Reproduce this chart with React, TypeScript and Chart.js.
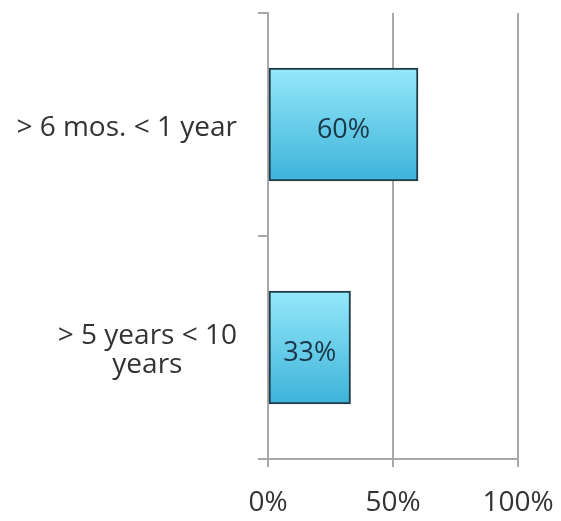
import React, { useEffect, useRef } from "react";
import { Chart, registerables } from "chart.js";

Chart.register(...registerables);

const categories: string[][] = [["> 6 mos. < 1 year"], ["> 5 years < 10", "years"]];
const values: number[] = [60, 33];
const xTicks: number[] = [0, 50, 100];

const FONT = "'Open Sans', Lato, sans-serif";
const TEXT = "#333333";
const GRID = "#a8a8a8";
const BAR_THICK = 113;

const yLabelPlugin = {
  id: "yLabels",
  afterDraw(chart: any) {
    const ctx = chart.ctx;
    const y = chart.scales.y;
    ctx.save();
    ctx.font = `28px ${FONT}`;
    ctx.fillStyle = TEXT;
    ctx.textBaseline = "alphabetic";
    ctx.textAlign = "center";
    const lh = 29;
    categories.forEach((lines, i) => {
      const cy = y.getPixelForValue(i);
      const w = Math.max(...lines.map((l) => ctx.measureText(l).width));
      const right = chart.chartArea.left - 31;
      const cx = right - w / 2;
      lines.forEach((l, k) => ctx.fillText(l, cx, cy + 11 + (k - (lines.length - 1) / 2) * lh));
    });
    ctx.restore();
  },
};

const barLabelPlugin = {
  id: "barLabels",
  afterDatasetsDraw(chart: any) {
    const ctx = chart.ctx;
    const meta = chart.getDatasetMeta(0);
    ctx.save();
    ctx.font = `27px ${FONT}`;
    ctx.fillStyle = "#1b3646";
    ctx.textAlign = "center";
    ctx.textBaseline = "alphabetic";
    meta.data.forEach((el: any, i: number) => {
      ctx.fillText(`${values[i]}%`, (el.x + el.base) / 2, el.y + 13);
    });
    ctx.restore();
  },
};

export default function App() {
  const ref = useRef<HTMLCanvasElement>(null);
  useEffect(() => {
    if (!ref.current) return;
    const chart = new Chart(ref.current, {
      type: "bar",
      data: {
        labels: categories.map((c) => c.join(" ")),
        datasets: [
          {
            data: values,
            barThickness: BAR_THICK,
            borderColor: "#1f3b48",
            borderWidth: 2,
            borderSkipped: false,
            backgroundColor: (c: any) => {
              const ch = c.chart;
              const ys = ch.scales?.y;
              if (!ys || c.dataIndex === undefined) return "#6cd2ef";
              const cy = ys.getPixelForValue(c.dataIndex);
              if (!isFinite(cy)) return "#6cd2ef";
              const g = ch.ctx.createLinearGradient(0, cy - BAR_THICK / 2, 0, cy + BAR_THICK / 2);
              g.addColorStop(0, "#95e8fa");
              g.addColorStop(1, "#3db3d9");
              return g;
            },
          },
        ],
      },
      options: {
        indexAxis: "y",
        animation: false,
        responsive: true,
        maintainAspectRatio: false,
        layout: { padding: { left: 0, top: 13, right: 43, bottom: 0 } },
        plugins: { legend: { display: false }, tooltip: { enabled: false } },
        scales: {
          x: {
            min: 0,
            max: 100,
            afterFit: (s: any) => {
              s.height = 62;
              s.paddingLeft = 0;
              s.paddingRight = 0;
            },
            afterBuildTicks: (s: any) => {
              s.ticks = xTicks.map((v) => ({ value: v }));
            },
            ticks: {
              callback: (v: any) => `${v}%`,
              font: { family: FONT, size: 28 },
              color: TEXT,
              padding: 19,
              maxRotation: 0,
            },
            grid: { color: GRID, lineWidth: 2, tickLength: 8, drawTicks: true },
            border: { color: GRID, width: 2 },
          },
          y: {
            afterFit: (s: any) => {
              s.width = 268;
            },
            ticks: { display: false },
            grid: { drawOnChartArea: false, color: GRID, lineWidth: 2, tickLength: 10, offset: true },
            border: { color: GRID, width: 2 },
          },
        },
      },
      plugins: [yLabelPlugin, barLabelPlugin],
    } as any);
    return () => chart.destroy();
  }, []);
  return (
    <div style={{ position: "absolute", left: 0, top: 0, width: 561, height: 521, background: "#fff" }}>
      <canvas ref={ref} />
    </div>
  );
}
